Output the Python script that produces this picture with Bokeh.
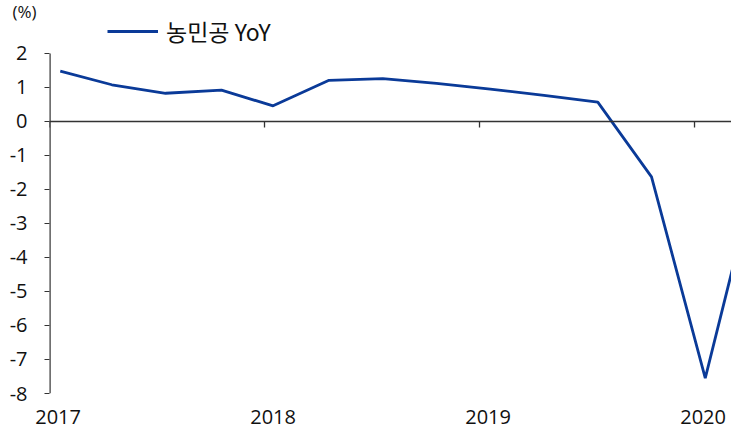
from bokeh.plotting import figure
from bokeh.models import Range1d, FixedTicker, Span, Legend, LegendItem, Title, CustomJSTickFormatter
from bokeh.embed import file_html
from bokeh.resources import INLINE

# quarterly observations (fractional year positions) and values (%)
quarters = [2017.05, 2017.29, 2017.54, 2017.80, 2018.04, 2018.30, 2018.55,
            2018.80, 2019.05, 2019.30, 2019.55, 2019.80, 2020.05, 2020.30]
yoy = [1.48, 1.08, 0.83, 0.92, 0.46, 1.21, 1.26,
       1.12, 0.95, 0.77, 0.57, -1.63, -7.55, -1.2]
year_ticks = [2017, 2018, 2019, 2020]
year_label_pos = [2017.04, 2018.04, 2019.04, 2020.04]
y_ticks = list(range(-8, 3))
y_min, y_max = -8, 2
series_name = "농민공 YoY"
unit_label = "(%)"

FONT = "Open Sans"
KFONT = "Noto Sans CJK KR"
LINE_COLOR = "#0a3a98"
AXIS_COLOR = "#333333"

p = figure(width=731, height=435, output_backend="svg", toolbar_location=None,
           x_range=Range1d(2017, 2020.172), y_range=Range1d(-8, 3.029),
           min_border_left=49, min_border_right=0, min_border_top=18, min_border_bottom=42)
p.outline_line_color = None
p.xgrid.visible = False
p.ygrid.visible = False
p.background_fill_color = "white"

p.title = Title(text=unit_label, align="left", offset=-37, standoff=-9,
                text_font=FONT, text_font_size="17px", text_font_style="normal",
                text_color="#111111")

# y axis (line drawn only over the -8..2 span)
p.yaxis.ticker = FixedTicker(ticks=y_ticks)
p.yaxis.formatter = CustomJSTickFormatter(code="return tick.toFixed(0);")
p.yaxis.axis_line_color = None
p.yaxis.major_tick_line_color = AXIS_COLOR
p.yaxis.major_tick_line_width = 1.2
p.yaxis.major_tick_in = 0
p.yaxis.major_tick_out = 5
p.yaxis.minor_tick_line_color = None
p.yaxis.major_label_standoff = 17
p.yaxis.major_label_text_font = FONT
p.yaxis.major_label_text_font_size = "20px"
p.yaxis.major_label_text_color = "#111111"
p.yaxis.axis_label_standoff = 0
p.segment(x0=[year_ticks[0]], y0=[y_min], x1=[year_ticks[0]], y1=[y_max],
          line_color=AXIS_COLOR, line_width=2.4)

# x axis (labels only)
p.xaxis.ticker = FixedTicker(ticks=year_label_pos)
p.xaxis.formatter = CustomJSTickFormatter(code="return Math.floor(tick).toString();")
p.xaxis.axis_line_color = None
p.xaxis.major_tick_line_color = None
p.xaxis.minor_tick_line_color = None
p.xaxis.major_tick_in = 0
p.xaxis.major_tick_out = 0
p.xaxis.major_label_standoff = 16
p.xaxis.axis_label_standoff = 0
p.xaxis.major_label_text_font = FONT
p.xaxis.major_label_text_font_size = "20px"
p.xaxis.major_label_text_color = "#111111"

# zero line with year tick marks
p.add_layout(Span(location=0, dimension="width", line_color=AXIS_COLOR, line_width=1.3))
p.segment(x0=year_ticks, y0=[0] * len(year_ticks), x1=year_ticks,
          y1=[-0.18] * len(year_ticks), line_color=AXIS_COLOR, line_width=1.3)

r = p.line(quarters, yoy, line_color=LINE_COLOR, line_width=2.8)

legend = Legend(items=[LegendItem(label=series_name, renderers=[r])],
                location=(58, 345), orientation="horizontal",
                label_text_font=KFONT, label_text_font_size="23px", label_text_color="#111111",
                glyph_width=51, glyph_height=24, label_standoff=8, padding=0, margin=0,
                border_line_color=None, background_fill_alpha=0)
p.add_layout(legend, "center")

open("out.html", "w").write(file_html(p, INLINE))
